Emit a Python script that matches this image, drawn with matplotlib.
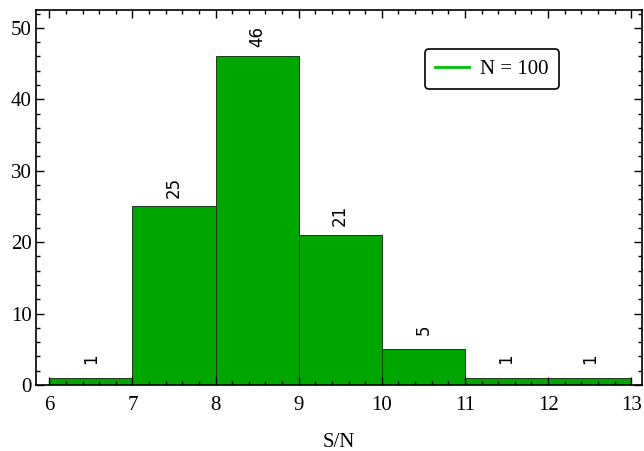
import matplotlib
matplotlib.use("Agg")
import matplotlib.pyplot as plt
from matplotlib.lines import Line2D
from matplotlib.ticker import MultipleLocator

bin_edges = [6, 7, 8, 9, 10, 11, 12, 13]
counts = [1, 25, 46, 21, 5, 1, 1]
legend_label = "N = 100"
xlabel = "S/N"

plt.rcParams['font.family'] = ['Liberation Serif', 'DejaVu Serif']
plt.rcParams['mathtext.fontset'] = 'stix'

fig = plt.figure(figsize=(6.44, 4.51), dpi=100)
ax = fig.add_axes([0.0559, 0.1463, 0.941, 0.8315])

lefts = bin_edges[:-1]
widths = [b - a for a, b in zip(bin_edges[:-1], bin_edges[1:])]
ax.bar(lefts, counts, width=widths, align='edge', color='#00a600',
       edgecolor='#1a3a1a', linewidth=0.7)

for l, w, c in zip(lefts, widths, counts):
    ax.annotate(str(c), xy=(l + w / 2, c), xytext=(0, 14), textcoords='offset points',
                rotation=90, ha='center', va='center', fontsize=12,
                family='DejaVu Sans')

ax.set_xlim(5.84, 13.13)
ax.set_ylim(0, 52.5)
ax.xaxis.set_major_locator(MultipleLocator(1))
ax.xaxis.set_minor_locator(MultipleLocator(0.2))
ax.yaxis.set_major_locator(MultipleLocator(10))
ax.yaxis.set_minor_locator(MultipleLocator(2))
ax.tick_params(which='both', direction='in', top=True, right=True, labelsize=15, width=1)
ax.tick_params(which='major', length=6)
ax.tick_params(which='minor', length=3)
ax.tick_params(axis='x', which='major', pad=8)
ax.tick_params(axis='y', which='major', pad=3)
for s in ax.spines.values():
    s.set_linewidth(1.2)

ax.set_xlabel(xlabel, fontsize=15, labelpad=13)

handle = Line2D([], [], color='#00c000', linewidth=2)
leg = ax.legend([handle], [legend_label], loc='upper right', bbox_to_anchor=(0.863, 0.896),
                borderaxespad=0, fontsize=15, frameon=True, fancybox=True, edgecolor='black',
                framealpha=1, handlelength=1.6, handletextpad=0.55, borderpad=0.5)
leg.get_frame().set_linewidth(1.2)

fig.savefig("out.png", dpi=100)
